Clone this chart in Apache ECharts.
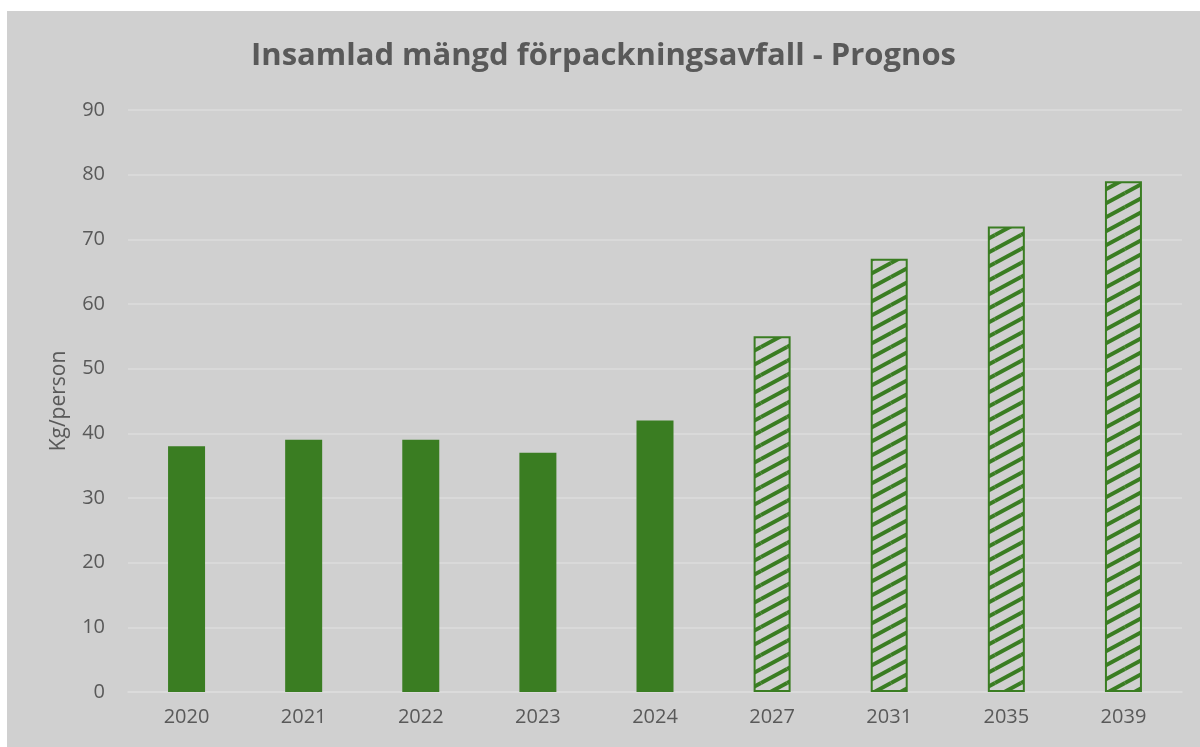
<!DOCTYPE html>
<html>
<head>
<meta charset="utf-8">
<script src="https://cdn.jsdelivr.net/npm/echarts@6/dist/echarts.min.js"></script>
<style>
  html, body { margin: 0; padding: 0; background: #ffffff; }
  #chart { position: absolute; left: 7px; top: 11px; width: 1193px; height: 736px; }
</style>
</head>
<body>
<div id="chart"></div>
<script>
var years = ['2020', '2021', '2022', '2023', '2024', '2027', '2031', '2035', '2039'];
var values = [38, 39, 39, 37, 42, 55, 67, 72, 79];
var forecast = [false, false, false, false, false, true, true, true, true];

var green = '#3a7d22';

// hatch tile for forecast bars
function makeHatch() {
    var w = 26, h = 14;
    var c = document.createElement('canvas');
    c.width = w; c.height = h;
    var ctx = c.getContext('2d');
    ctx.fillStyle = '#d0d0d0';
    ctx.fillRect(0, 0, w, h);
    ctx.strokeStyle = green;
    ctx.lineWidth = 4;
    for (var k = -1; k <= 1; k++) {
        ctx.beginPath();
        ctx.moveTo(k * w, h);
        ctx.lineTo((k + 1) * w, 0);
        ctx.stroke();
        ctx.beginPath();
        ctx.moveTo(k * w, 2 * h);
        ctx.lineTo((k + 1) * w, h);
        ctx.stroke();
        ctx.beginPath();
        ctx.moveTo(k * w, 0);
        ctx.lineTo((k + 1) * w, -h);
        ctx.stroke();
    }
    return c;
}
var hatch = makeHatch();

var barData = values.map(function (v, i) {
    if (!forecast[i]) {
        return { value: v, itemStyle: { color: green } };
    }
    return {
        value: v,
        itemStyle: {
            color: { image: hatch, repeat: 'repeat' },
            borderColor: green,
            borderWidth: 2
        }
    };
});

var chart = echarts.init(document.getElementById('chart'));
var option = {
    backgroundColor: '#d0d0d0',
    animation: false,
    title: {
        text: 'Insamlad mängd förpackningsavfall - Prognos',
        left: 'center',
        top: 25,
        textStyle: {
            fontFamily: 'Open Sans',
            fontWeight: 'bold',
            fontSize: 31,
            color: '#595959'
        }
    },
    grid: { left: 121, right: 18, top: 99, bottom: 55 },
    xAxis: {
        type: 'category',
        data: years,
        axisLine: { lineStyle: { color: '#dcdcdc', width: 1.5 } },
        axisTick: { show: false },
        axisLabel: { color: '#595959', fontSize: 20, margin: 15, fontFamily: 'Open Sans' }
    },
    yAxis: {
        type: 'value',
        min: 0,
        max: 90,
        interval: 10,
        name: 'Kg/person',
        nameLocation: 'middle',
        nameGap: 58,
        nameTextStyle: { color: '#595959', fontSize: 21, fontFamily: 'Open Sans' },
        axisLine: { show: false },
        axisTick: { show: false },
        axisLabel: { color: '#595959', fontSize: 20, margin: 23, fontFamily: 'Open Sans' },
        splitLine: { lineStyle: { color: '#dcdcdc', width: 1.5 } }
    },
    series: [{
        type: 'bar',
        data: barData,
        barWidth: 37
    }]
};
chart.setOption(option);
</script>
</body>
</html>
